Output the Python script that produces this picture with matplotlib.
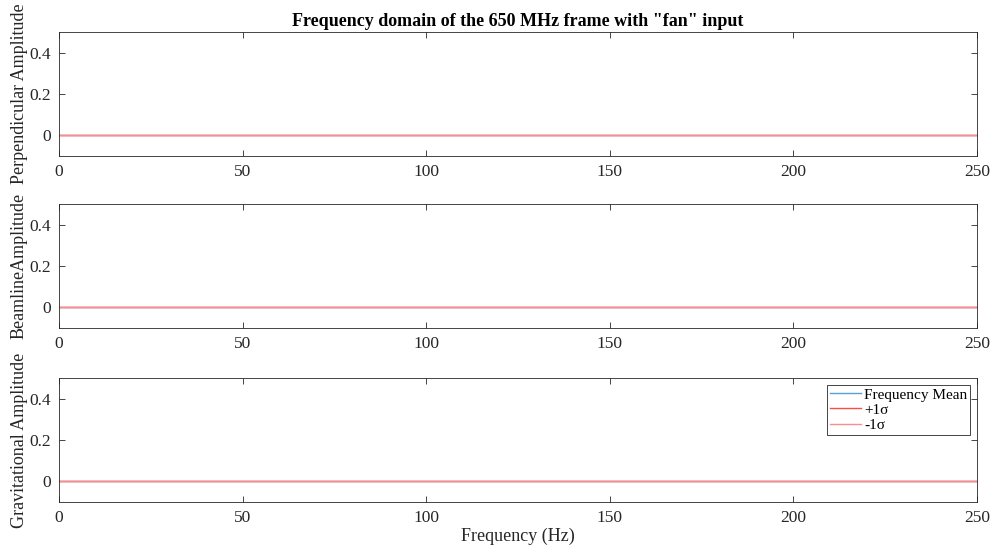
import matplotlib
matplotlib.use('Agg')
import matplotlib.pyplot as plt

plt.rcParams['font.family'] = ['Liberation Serif', 'DejaVu Serif']
plt.rcParams['mathtext.fontset'] = 'stix'

# frequency axis (Hz) and amplitude samples (all flat at ~0)
freq = [0, 50, 100, 150, 200, 250]
perp_mean = [0, 0, 0, 0, 0, 0]
perp_plus = [0, 0, 0, 0, 0, 0]
perp_minus = [0, 0, 0, 0, 0, 0]
beam_mean = [0, 0, 0, 0, 0, 0]
beam_plus = [0, 0, 0, 0, 0, 0]
beam_minus = [0, 0, 0, 0, 0, 0]
grav_mean = [0, 0, 0, 0, 0, 0]
grav_plus = [0, 0, 0, 0, 0, 0]
grav_minus = [0, 0, 0, 0, 0, 0]

ylabels = ['Perpendicular Amplitude', 'BeamlineAmplitude', 'Gravitational Amplitude']
series = [(perp_mean, perp_plus, perp_minus),
          (beam_mean, beam_plus, beam_minus),
          (grav_mean, grav_plus, grav_minus)]
xticks = [0, 50, 100, 150, 200, 250]
yticks = [0, 0.2, 0.4]

fig = plt.figure(figsize=(9.91, 5.5), dpi=100)
bottoms = [0.7164, 0.4036, 0.0873]
axes = []
for b in bottoms:
    axes.append(fig.add_axes([0.0595, b, 0.9265, 0.2255]))

for ax, lab, (m, p, n) in zip(axes, ylabels, series):
    ax.plot(freq, m, color='#5a9fd6', lw=1, label='Frequency Mean')
    ax.plot(freq, p, color='#ff4a4a', lw=1, label='+1σ')
    ax.plot(freq, n, color='#ff8c8c', lw=1, label='-1σ')
    ax.set_xlim(0, 250)
    ax.set_ylim(-0.1, 0.5)
    ax.set_xticks(xticks)
    ax.set_yticks(yticks)
    ax.set_yticklabels(['0', '0.2', '0.4'])
    ax.tick_params(direction='in', top=True, right=True, labelsize=12.5,
                   colors='#262626', length=4, width=0.6, pad=6)
    for s in ax.spines.values():
        s.set_color('#262626')
        s.set_linewidth(0.6)
    ax.set_ylabel(lab, fontsize=13, color='#262626', labelpad=1)

axes[0].set_title('Frequency domain of the 650 MHz frame with "fan" input',
                  fontsize=13, fontweight='bold', pad=4)
axes[2].set_xlabel('Frequency (Hz)', fontsize=13, color='#262626', labelpad=1)
leg = axes[2].legend(loc='upper right', fontsize=11, fancybox=False,
                     borderaxespad=0.45, handlelength=2.0, handletextpad=0.2,
                     labelspacing=0.1, borderpad=0.2, framealpha=1)
leg.get_frame().set_edgecolor('#262626')
leg.get_frame().set_linewidth(0.6)

fig.savefig('out.png', dpi=100)
